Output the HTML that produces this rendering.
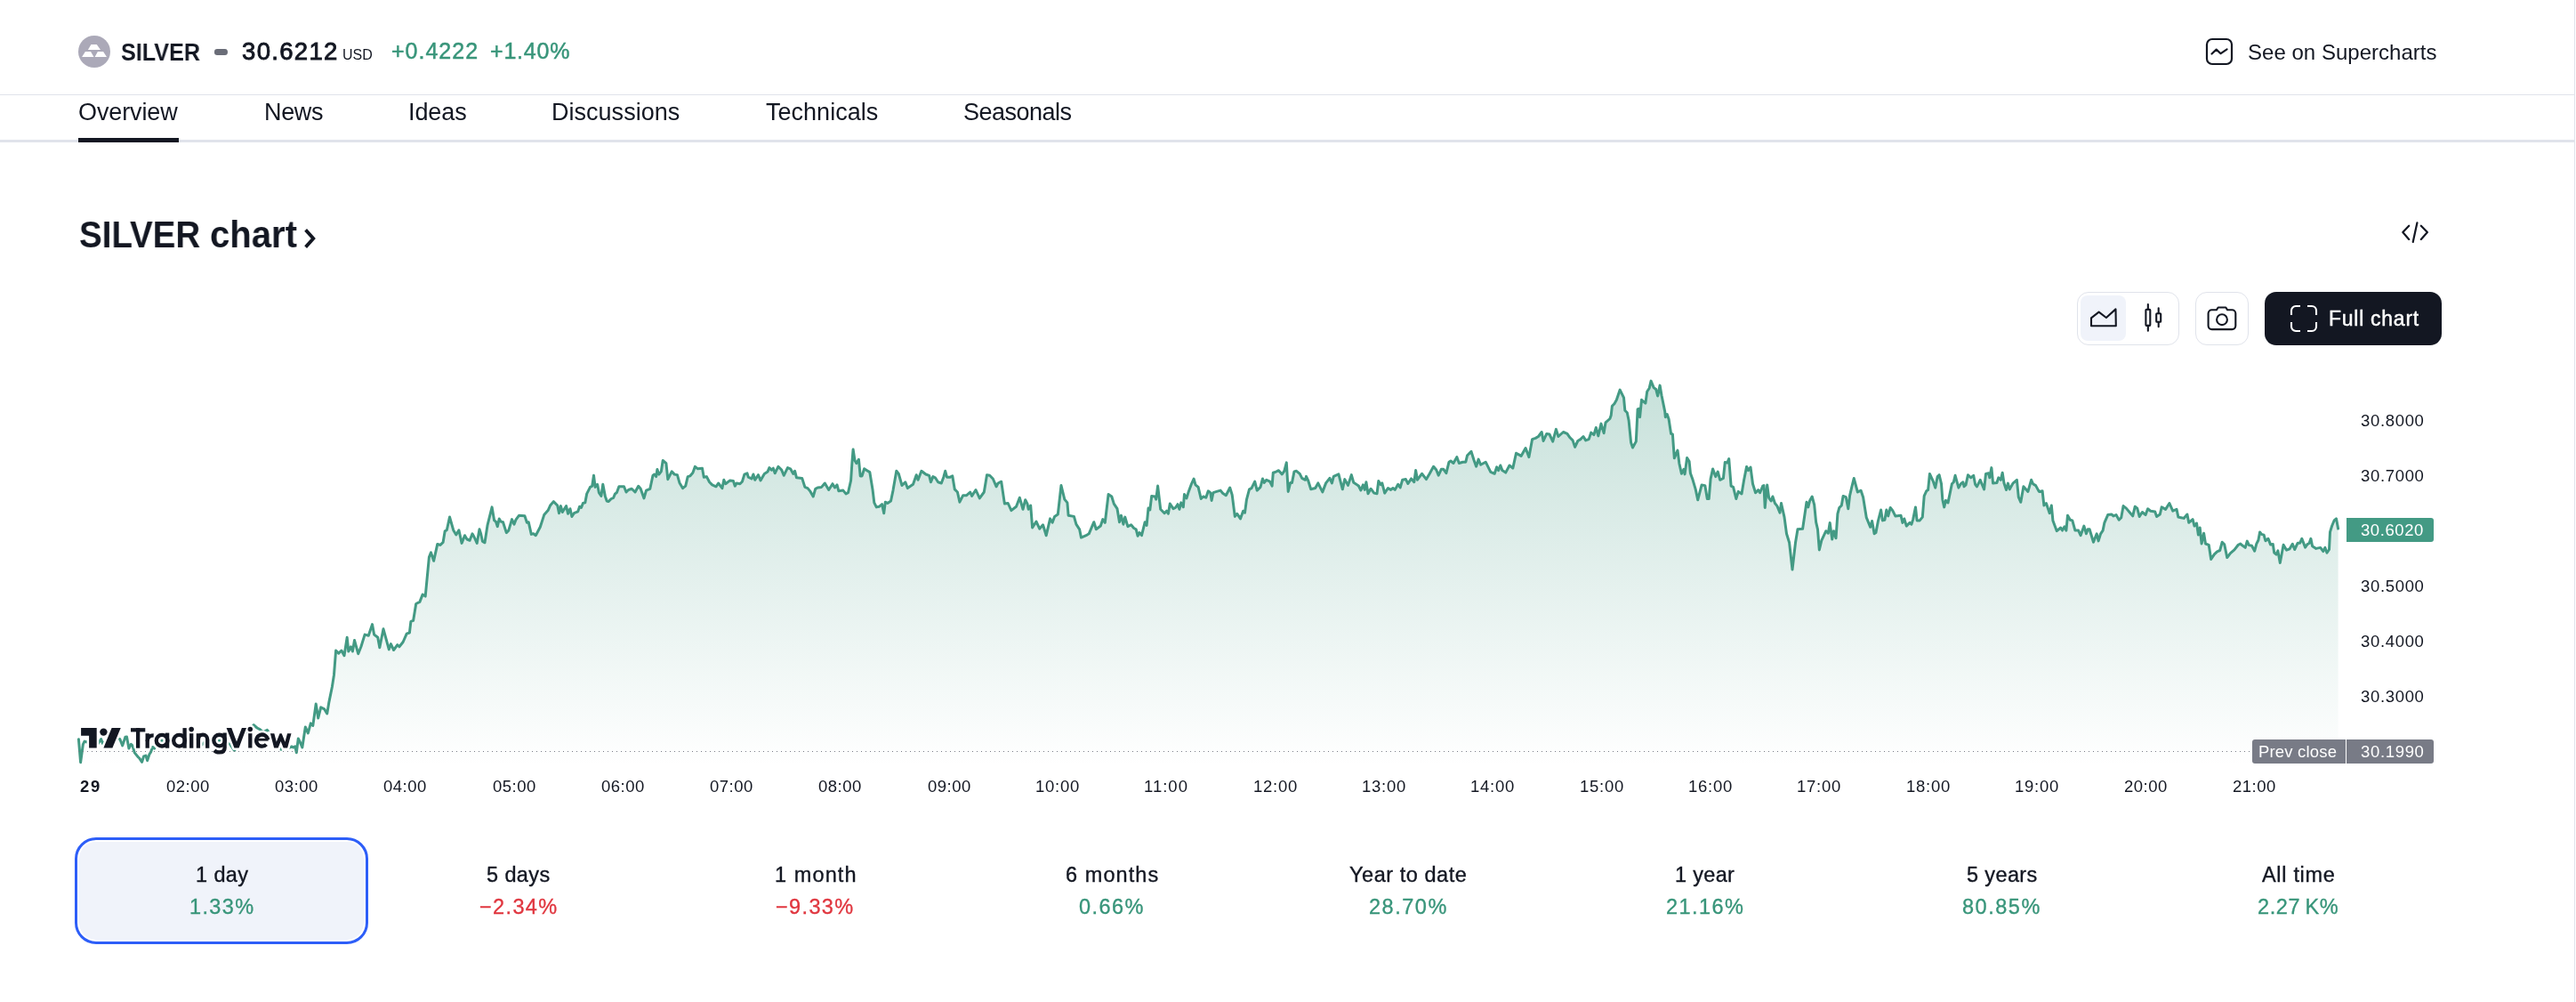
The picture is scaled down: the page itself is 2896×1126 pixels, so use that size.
<!DOCTYPE html>
<html lang="en"><head><meta charset="utf-8"><title>SILVER chart</title>
<style>
*{box-sizing:border-box;margin:0;padding:0}
html,body{width:2896px;height:1126px;overflow:hidden;background:#fff}
body{position:relative;font-family:"Liberation Sans",sans-serif;color:#131722}
.t{position:absolute;white-space:pre;line-height:1;font-family:"Liberation Sans",sans-serif;will-change:transform}
.abs{position:absolute}
.hr{position:absolute;left:0;width:2894px;background:#e0e3eb}
.vr{position:absolute;left:2894px;top:0;width:1px;height:1126px;background:#e0e3eb}
.btn{position:absolute;border:1px solid #e0e3eb;border-radius:13px;background:#fff}
</style></head>
<body>
<header class="abs" style="left:0;top:0;width:2896px;height:106px">
<svg class="abs" style="left:88px;top:40px" width="36" height="36" viewBox="0 0 36 36">
<circle cx="18" cy="18" r="18" fill="#aba9b8"/>
<path d="M14.4,10 L20.8,10 L25,15.9 L10.9,15.9 Z M7.9,18 L14,18 L17.5,23.9 L4.1,23.9 Z M21.9,18 L28.1,18 L32,23.9 L18.6,23.9 Z" fill="#fff"/>
</svg>
<span class="t" style="left:136.07px;top:45.8px;font-size:27px;font-weight:700;color:#131722;letter-spacing:0px;transform:scaleX(0.9319);transform-origin:0 0">SILVER</span>
<span class="abs" style="left:241px;top:55.3px;width:15px;height:6.3px;border-radius:3.2px;background:#6a6d78"></span>
<span class="t" style="left:272.0px;top:44.0px;font-size:27.5px;font-weight:400;color:#131722;letter-spacing:1.333px;-webkit-text-stroke:0.9px #131722">30.6212</span>
<span class="t" style="left:385.0px;top:54.4px;font-size:16px;font-weight:400;color:#131722;letter-spacing:0.0px">USD</span>
<span class="t" style="left:440.0px;top:45.0px;font-size:25px;font-weight:400;color:#38957a;letter-spacing:1.0px;-webkit-text-stroke:0.5px #38957a">+0.4222</span>
<span class="t" style="left:551.0px;top:45.0px;font-size:25px;font-weight:400;color:#38957a;letter-spacing:0.8px;-webkit-text-stroke:0.5px #38957a">+1.40%</span>
<svg class="abs" style="left:2479px;top:42px" width="32" height="32" viewBox="0 0 32 32" fill="none" stroke="#131722" stroke-width="2.2" stroke-linecap="round" stroke-linejoin="round">
<rect x="2" y="2" width="28" height="28" rx="6"/>
<path d="M7.5,18.5 L12.7,13.6 L17.6,18.2 L24.6,13.4"/>
</svg>
<span class="t" style="left:2526.8px;top:46.8px;font-size:24px;font-weight:400;color:#131722;letter-spacing:0.024px">See on Supercharts</span>
</header>
<div class="hr" style="top:106px;height:1px"></div>
<div class="vr"></div>
<nav aria-label="Symbol sections">
<span class="t" style="left:88.0px;top:113.3px;font-size:27px;font-weight:400;color:#131722;letter-spacing:-0.114px">Overview</span><span class="t" style="left:296.5px;top:113.3px;font-size:27px;font-weight:400;color:#131722;letter-spacing:-0.334px">News</span><span class="t" style="left:458.7px;top:113.3px;font-size:27px;font-weight:400;color:#131722;letter-spacing:-0.1px">Ideas</span><span class="t" style="left:620.0px;top:113.3px;font-size:27px;font-weight:400;color:#131722;letter-spacing:0.02px">Discussions</span><span class="t" style="left:861.4px;top:113.3px;font-size:27px;font-weight:400;color:#131722;letter-spacing:0.023px">Technicals</span><span class="t" style="left:1083.0px;top:113.3px;font-size:27px;font-weight:400;color:#131722;letter-spacing:-0.5px">Seasonals</span>
<div class="hr" style="top:157px;height:3px"></div>
<div class="abs" style="left:88px;top:155px;width:113px;height:5px;background:#131722"></div>
</nav>
<main>
<span class="t" style="left:88.98px;top:243.0px;font-size:42px;font-weight:700;color:#131722;letter-spacing:0px;transform:scaleX(0.9163);transform-origin:0 0">SILVER</span>
<span class="t" style="left:235.75px;top:243.0px;font-size:42px;font-weight:700;color:#131722;letter-spacing:0px;transform:scaleX(0.9539);transform-origin:0 0">chart</span>
<svg class="abs" style="left:338px;top:254px" width="20" height="28" viewBox="338 254 20 28" fill="none" stroke="#131722" stroke-width="3.8" stroke-linecap="butt" stroke-linejoin="miter">
<path d="M343.6,258.4 L352.3,268 L343.6,277.6"/></svg>
<svg class="abs" style="left:2696px;top:246px" width="40" height="30" viewBox="2696 246 40 30" fill="none" stroke="#131722" stroke-width="2.2" stroke-linecap="round" stroke-linejoin="round">
<path d="M2708.2,253.7 L2701.3,261.1 L2708.2,268.9 M2717.4,250.4 L2712.7,271.9 M2721.8,253.7 L2728.9,261.1 L2721.8,268.9"/></svg>
<div class="btn" style="left:2335px;top:328px;width:115px;height:60px"></div>
<div class="abs" style="left:2339px;top:332px;width:51px;height:51px;border-radius:8px;background:#f0f3fa"></div>
<svg class="abs" style="left:2340px;top:336px" width="100" height="42" viewBox="2340 336 100 42" fill="none" stroke="#131722" stroke-width="2.1" stroke-linejoin="round" stroke-linecap="round">
<path d="M2351,357.3 L2359.6,350.6 L2367.9,357 L2378.5,347.4 L2378.8,366.2 L2351,366.2 Z"/>
<rect x="2412.4" y="347.8" width="4.9" height="18.1" rx="0.8"/>
<path d="M2414.85,342 V347.8 M2414.85,365.9 V371.7"/>
<rect x="2424.2" y="352.2" width="5" height="9.6" rx="0.8"/>
<path d="M2426.7,346.3 V352.2 M2426.7,361.8 V367.2"/>
</svg>
<div class="btn" style="left:2468px;top:328px;width:60px;height:60px"></div>
<svg class="abs" style="left:2478px;top:340px" width="40" height="34" viewBox="2478 340 40 34" fill="none" stroke="#131722" stroke-width="2.1" stroke-linejoin="round" stroke-linecap="round">
<path d="M2486.6,348.3 H2491.8 L2493.7,345.5 H2502.3 L2504.2,348.3 H2509.3 A4,4 0 0 1 2513.3,352.3 V366.1 A4,4 0 0 1 2509.3,370.1 H2486.6 A4,4 0 0 1 2482.6,366.1 V352.3 A4,4 0 0 1 2486.6,348.3 Z"/>
<circle cx="2498" cy="359.2" r="5.9"/>
</svg>
<div class="abs" style="left:2546px;top:328px;width:199px;height:60px;border-radius:13px;background:#131722"></div>
<svg class="abs" style="left:2574px;top:342px" width="32" height="32" viewBox="0 0 32 32" fill="none" stroke="#fff" stroke-width="2.1" stroke-linecap="butt">
<path d="M2,12 V7 A5,5 0 0 1 7,2 H12 M20,2 H25 A5,5 0 0 1 30,7 V12 M30,20 V25 A5,5 0 0 1 25,30 H20 M12,30 H7 A5,5 0 0 1 2,25 V20"/>
</svg>
<span class="t" style="left:2617.7px;top:347.1px;font-size:23px;font-weight:400;color:#ffffff;letter-spacing:0.733px;-webkit-text-stroke:0.45px #ffffff">Full chart</span>
<svg class="abs" style="left:80px;top:400px" width="2580" height="480" viewBox="80 400 2580 480">
<defs><linearGradient id="g" gradientUnits="userSpaceOnUse" x1="0" y1="425" x2="0" y2="860">
<stop offset="0" stop-color="#439a84" stop-opacity="0.30"/>
<stop offset="1" stop-color="#439a84" stop-opacity="0.0"/>
</linearGradient></defs>
<path d="M88.4,830.7 L90.6,856.7 L93.4,836.3 L95.0,833.1 L98.0,834.0 L102.0,831.0 L106.0,835.0 L110.0,836.0 L113.6,830.6 L115.4,835.5 L119.0,833.0 L122.0,830.0 L126.0,833.0 L130.0,829.0 L134.9,830.7 L137.7,837.9 L140.9,828.3 L142.5,828.0 L144.9,841.1 L147.3,836.3 L148.9,837.9 L151.3,845.9 L155.3,850.7 L156.9,852.3 L159.6,856.3 L161.6,849.9 L164.0,849.1 L165.6,854.7 L168.0,847.5 L169.6,845.1 L171.6,839.5 L173.6,841.1 L177.0,836.0 L182.3,831.8 L187.0,835.0 L192.0,829.0 L197.0,840.0 L203.0,836.0 L209.0,832.0 L215.0,838.0 L221.0,834.0 L227.0,837.0 L233.0,831.0 L240.0,835.0 L246.8,831.8 L252.0,834.0 L258.4,836.1 L263.5,843.4 L268.0,836.0 L274.0,826.0 L280.0,820.0 L285.2,814.7 L289.0,818.0 L292.2,819.6 L295.8,822.8 L300.4,820.4 L304.0,826.0 L308.0,834.0 L312.0,839.0 L315.8,842.2 L320.0,839.0 L324.0,841.0 L327.8,838.9 L329.8,839.9 L331.8,838.9 L333.3,845.8 L335.3,829.9 L337.3,833.9 L339.8,839.9 L343.3,816.9 L346.3,823.9 L349.3,812.9 L351.8,815.4 L355.2,790.9 L357.7,806.9 L360.7,794.9 L364.7,796.9 L367.7,801.9 L369.7,789.9 L373.4,771.8 L375.5,758.2 L377.6,731.0 L380.7,734.1 L383.9,731.0 L387.0,736.8 L390.2,716.3 L391.8,732.0 L394.4,726.8 L396.4,732.0 L398.5,719.4 L402.7,734.7 L405.9,726.8 L410.1,713.1 L414.3,714.2 L418.5,701.6 L420.6,713.1 L424.7,716.3 L426.8,727.8 L431.0,706.8 L437.3,729.9 L439.4,723.6 L442.6,730.5 L446.8,724.7 L448.9,726.8 L453.1,721.5 L457.2,712.1 L460.4,711.0 L461.9,698.4 L464.6,697.4 L467.7,678.5 L471.9,676.4 L475.1,668.1 L478.2,670.1 L482.4,626.1 L484.5,620.9 L487.6,630.3 L491.8,611.4 L495.0,612.5 L498.1,609.4 L500.2,596.8 L502.3,595.7 L505.5,581.0 L509.7,595.7 L512.8,601.0 L515.9,595.7 L519.1,610.4 L522.5,601.7 L525.0,606.0 L528.1,607.3 L531.0,599.8 L533.1,603.5 L536.2,610.4 L539.0,594.8 L540.6,599.8 L542.5,608.5 L545.0,609.8 L548.1,589.8 L553.1,569.9 L555.6,584.8 L557.4,586.1 L559.3,591.7 L561.2,583.0 L563.0,586.1 L565.5,586.7 L569.3,598.6 L571.8,596.1 L575.5,583.6 L578.0,589.2 L579.9,584.2 L583.6,579.2 L589.9,579.8 L592.4,587.3 L594.2,586.7 L597.3,600.4 L599.8,599.8 L602.3,601.7 L607.3,592.3 L611.7,578.6 L616.1,573.6 L618.6,568.0 L622.3,563.6 L626.7,568.0 L628.5,576.7 L630.4,568.6 L632.3,575.5 L636.6,568.6 L638.5,577.3 L641.0,571.7 L642.9,580.5 L645.4,576.7 L649.7,574.9 L651.6,569.2 L653.5,570.5 L655.4,565.5 L657.8,564.9 L659.7,554.9 L663.5,547.4 L665.7,546.2 L667.5,534.3 L669.1,547.4 L671.6,544.3 L673.4,553.6 L675.9,557.4 L677.8,544.3 L680.3,557.4 L682.2,563.0 L684.0,563.6 L687.2,560.5 L689.7,559.3 L691.5,554.9 L693.4,553.6 L695.9,546.8 L701.5,546.8 L704.0,553.0 L706.5,550.5 L710.2,549.3 L714.0,553.0 L717.7,546.2 L720.2,549.3 L724.0,559.9 L726.5,551.1 L730.8,549.3 L734.0,534.3 L735.8,533.1 L737.7,535.6 L738.9,527.4 L740.8,533.1 L743.3,529.9 L745.2,517.5 L748.9,520.6 L750.8,538.7 L755.2,529.9 L758.3,533.1 L761.4,533.7 L763.9,542.4 L767.6,548.7 L770.7,546.2 L773.2,535.6 L775.7,534.9 L778.9,531.2 L781.4,524.3 L784.5,526.8 L789.5,526.2 L791.3,536.2 L794.4,535.6 L797.6,541.8 L800.7,544.9 L805.0,546.8 L807.6,543.0 L811.9,548.7 L813.8,539.3 L815.7,543.7 L820.7,539.9 L824.4,540.5 L826.3,546.2 L828.1,543.0 L831.9,543.7 L834.4,541.2 L836.9,533.1 L840.0,531.8 L841.2,536.2 L845.0,538.0 L846.9,533.0 L848.7,539.3 L852.5,533.7 L855.0,539.9 L859.3,532.4 L863.1,529.9 L864.9,525.6 L867.4,528.1 L869.3,526.2 L871.2,531.8 L874.9,524.3 L878.7,528.1 L881.2,534.3 L885.5,525.6 L888.6,526.8 L891.8,532.4 L893.6,529.3 L895.5,536.8 L901.7,537.4 L904.9,547.4 L908.0,548.6 L911.1,552.4 L914.2,558.0 L916.7,549.3 L919.2,548.0 L923.6,547.4 L927.3,543.0 L931.7,550.5 L936.0,543.7 L938.5,548.0 L941.0,544.9 L942.9,551.8 L947.9,551.1 L951.0,554.9 L953.5,553.6 L956.6,539.9 L957.9,520.0 L959.1,505.0 L961.0,517.5 L962.9,520.6 L965.4,516.2 L967.2,534.9 L969.1,534.9 L971.6,526.8 L974.7,528.7 L977.8,530.6 L981.0,549.9 L982.8,564.9 L985.3,569.9 L988.6,569.2 L991.6,566.7 L993.7,576.7 L995.3,564.2 L997.8,565.5 L1001.5,563.0 L1004.0,551.1 L1007.8,529.3 L1010.3,532.4 L1014.0,545.5 L1017.8,541.8 L1020.3,548.6 L1026.5,544.3 L1030.2,533.7 L1032.1,539.3 L1035.9,529.3 L1040.8,533.0 L1044.6,534.3 L1046.5,541.8 L1048.9,535.6 L1051.4,536.8 L1054.6,541.8 L1058.3,543.0 L1060.8,536.2 L1062.7,529.3 L1064.5,536.2 L1068.3,536.2 L1070.8,534.9 L1073.3,549.9 L1076.4,553.0 L1078.9,564.2 L1082.6,556.8 L1086.4,556.8 L1090.7,553.0 L1092.6,557.4 L1097.0,550.5 L1101.3,559.9 L1106.3,553.0 L1109.5,533.7 L1112.6,534.3 L1116.3,538.0 L1120.1,546.8 L1122.0,543.0 L1125.7,541.2 L1129.4,566.1 L1133.2,565.5 L1136.9,573.6 L1142.5,569.2 L1146.3,559.2 L1150.0,572.3 L1152.7,561.7 L1155.0,566.1 L1156.2,572.3 L1158.7,568.0 L1160.6,592.9 L1165.0,586.1 L1168.7,594.2 L1172.5,589.8 L1176.2,601.7 L1180.6,582.9 L1183.1,587.3 L1185.6,580.4 L1189.3,578.0 L1193.0,545.5 L1196.8,561.1 L1199.9,564.9 L1201.1,579.2 L1207.4,580.4 L1209.9,589.2 L1213.6,594.8 L1215.5,604.1 L1221.1,601.7 L1224.2,599.8 L1229.8,586.7 L1232.3,594.8 L1237.3,591.0 L1239.8,583.6 L1242.3,587.3 L1246.1,555.5 L1249.8,558.0 L1252.3,566.1 L1256.0,571.7 L1258.5,586.7 L1260.4,579.2 L1262.9,589.2 L1264.8,581.1 L1267.9,591.7 L1271.6,589.8 L1274.7,593.5 L1277.2,594.8 L1279.1,602.3 L1281.0,598.5 L1283.5,601.7 L1287.2,586.7 L1289.1,590.4 L1291.0,571.1 L1292.8,573.0 L1294.7,557.4 L1298.5,558.0 L1299.7,561.1 L1301.6,546.1 L1304.7,572.3 L1309.1,576.7 L1311.5,574.2 L1313.4,577.3 L1315.3,566.1 L1319.0,571.7 L1321.5,570.5 L1324.0,566.7 L1325.9,572.3 L1327.8,564.9 L1330.3,569.8 L1331.5,555.5 L1334.0,559.9 L1335.9,553.6 L1339.6,543.6 L1342.1,538.0 L1344.0,544.9 L1347.1,547.4 L1350.2,560.5 L1352.7,558.0 L1355.8,559.2 L1358.3,551.8 L1360.8,553.6 L1362.1,562.4 L1363.9,553.6 L1367.7,552.4 L1372.1,551.1 L1374.6,554.2 L1378.3,556.7 L1382.7,548.0 L1385.2,556.1 L1388.3,580.4 L1390.8,577.3 L1394.5,582.9 L1397.6,574.2 L1399.5,576.1 L1401.4,561.7 L1404.5,549.9 L1407.0,548.6 L1410.7,541.1 L1413.2,551.1 L1417.0,547.4 L1419.5,538.0 L1421.3,542.4 L1423.8,539.3 L1427.6,541.1 L1430.1,546.1 L1431.3,531.2 L1433.8,530.5 L1437.5,528.7 L1441.3,533.0 L1443.8,529.3 L1446.3,519.9 L1448.2,552.4 L1450.7,542.4 L1452.5,542.4 L1455.0,529.9 L1457.5,529.3 L1461.2,532.4 L1463.7,537.4 L1467.5,539.3 L1468.5,535.4 L1470.6,539.8 L1473.7,549.8 L1478.7,548.5 L1481.8,542.9 L1486.8,552.9 L1490.6,542.9 L1494.9,537.3 L1497.4,542.9 L1499.3,535.4 L1504.9,532.9 L1509.3,549.8 L1511.8,538.6 L1515.5,545.4 L1519.3,533.6 L1521.8,542.3 L1527.4,546.0 L1529.9,551.0 L1532.4,544.8 L1534.2,550.4 L1535.9,541.7 L1538.0,554.8 L1541.1,549.2 L1544.8,554.1 L1548.0,554.8 L1549.8,540.4 L1552.3,544.8 L1553.8,542.9 L1556.7,554.1 L1560.4,548.5 L1563.6,550.4 L1566.0,548.5 L1568.3,550.4 L1571.7,544.2 L1574.2,547.9 L1576.7,539.2 L1580.4,538.6 L1582.9,543.5 L1586.6,537.9 L1589.8,541.7 L1591.6,528.6 L1593.5,539.2 L1598.5,532.3 L1603.5,538.6 L1607.2,532.3 L1611.6,524.2 L1614.7,528.0 L1617.2,534.2 L1620.3,527.3 L1622.8,527.3 L1625.9,531.7 L1629.0,519.2 L1630.9,518.0 L1634.0,520.5 L1637.8,513.6 L1640.3,520.5 L1644.6,519.2 L1647.8,519.2 L1649.6,511.7 L1654.0,507.4 L1657.1,517.3 L1659.6,524.2 L1662.1,516.1 L1664.6,522.3 L1670.2,519.2 L1675.8,530.4 L1680.2,532.3 L1682.7,524.8 L1684.6,528.6 L1686.8,523.0 L1688.9,528.6 L1692.7,531.1 L1697.0,523.0 L1700.8,526.1 L1704.5,509.2 L1710.1,512.4 L1715.1,503.6 L1718.9,513.6 L1722.6,493.6 L1726.3,492.4 L1729.5,490.5 L1733.2,485.5 L1735.1,495.5 L1738.8,487.4 L1741.9,488.0 L1745.7,496.1 L1749.4,482.4 L1751.9,490.5 L1757.5,485.5 L1761.9,487.4 L1765.0,491.8 L1768.1,494.9 L1770.6,502.4 L1773.8,495.5 L1776.9,493.6 L1780.0,490.5 L1782.7,494.9 L1786.2,493.6 L1788.7,486.1 L1791.9,488.6 L1794.3,480.5 L1796.8,489.9 L1800.0,476.1 L1803.1,486.7 L1805.0,474.9 L1809.9,470.5 L1811.2,466.8 L1812.4,456.2 L1814.9,453.7 L1817.4,449.3 L1821.2,438.1 L1825.5,446.8 L1826.8,461.2 L1829.3,463.7 L1831.1,472.4 L1833.6,497.3 L1835.5,503.0 L1839.3,496.1 L1841.1,459.9 L1842.4,459.3 L1843.6,468.7 L1845.5,449.3 L1849.9,453.1 L1851.7,440.0 L1854.2,436.2 L1856.1,428.1 L1859.2,435.6 L1861.7,437.5 L1863.6,445.0 L1866.1,433.1 L1868.0,444.3 L1871.7,462.4 L1872.3,468.7 L1874.2,465.5 L1876.1,471.1 L1878.6,487.4 L1880.4,488.0 L1882.3,514.8 L1886.0,506.1 L1887.9,521.0 L1890.4,532.3 L1892.9,527.3 L1894.1,532.9 L1896.6,514.5 L1899.1,518.6 L1900.4,531.7 L1903.1,539.3 L1906.2,549.9 L1908.7,561.8 L1913.1,544.9 L1916.8,545.6 L1919.3,560.5 L1921.2,560.5 L1923.1,538.1 L1925.6,526.9 L1928.7,535.6 L1931.2,530.0 L1933.7,539.3 L1937.4,537.5 L1939.3,519.4 L1941.8,520.0 L1943.7,515.6 L1946.1,546.2 L1948.6,547.4 L1951.8,560.5 L1954.3,552.4 L1958.0,554.9 L1960.5,540.0 L1963.6,524.4 L1965.5,528.7 L1968.0,525.0 L1970.5,543.7 L1973.6,553.7 L1976.7,550.6 L1978.6,553.7 L1981.7,546.2 L1983.0,545.6 L1984.2,570.5 L1986.7,544.9 L1988.6,559.3 L1991.1,563.0 L1992.9,558.0 L1995.4,565.5 L1997.9,568.6 L2001.0,576.1 L2002.5,565.5 L2006.0,581.1 L2008.5,599.8 L2011.6,609.8 L2015.0,640.0 L2018.5,609.8 L2021.0,594.8 L2026.6,594.2 L2031.0,564.3 L2032.8,569.9 L2034.7,562.4 L2037.2,558.0 L2039.7,567.4 L2041.6,586.7 L2043.5,594.8 L2045.3,617.9 L2047.8,607.3 L2052.8,596.7 L2055.3,599.2 L2057.2,587.4 L2059.7,606.1 L2061.5,596.7 L2064.0,604.8 L2065.9,577.4 L2067.8,570.5 L2070.3,568.0 L2072.1,557.4 L2075.3,558.7 L2077.8,571.8 L2079.6,556.8 L2081.5,548.7 L2084.2,537.5 L2088.4,553.0 L2092.1,551.2 L2094.6,558.7 L2098.3,581.7 L2102.7,592.3 L2104.6,585.5 L2107.1,599.8 L2108.9,598.6 L2111.4,585.5 L2114.6,573.0 L2116.4,584.9 L2118.9,584.2 L2120.8,573.0 L2122.7,579.9 L2125.2,570.5 L2127.7,573.6 L2130.8,579.9 L2137.0,579.2 L2138.9,587.4 L2140.8,583.0 L2143.3,591.1 L2147.0,587.4 L2148.9,589.2 L2150.7,583.6 L2153.5,569.9 L2155.1,584.9 L2158.2,584.9 L2161.3,581.1 L2163.2,557.4 L2165.7,551.8 L2167.6,550.6 L2169.4,532.5 L2173.2,540.6 L2175.7,548.1 L2178.2,535.6 L2180.1,533.7 L2182.5,543.7 L2183.8,561.2 L2185.7,569.9 L2187.5,562.4 L2190.0,564.9 L2194.4,543.7 L2196.3,541.8 L2198.1,534.3 L2201.9,548.1 L2204.4,543.7 L2206.9,541.8 L2208.1,546.8 L2210.0,544.9 L2212.5,533.7 L2215.6,536.8 L2218.7,534.3 L2220.6,544.3 L2222.5,546.8 L2226.2,539.3 L2230.6,549.9 L2232.5,532.5 L2235.6,531.8 L2236.8,536.8 L2238.9,525.6 L2240.6,543.1 L2244.9,542.4 L2246.8,536.8 L2249.3,539.3 L2251.2,531.2 L2253.0,543.1 L2255.5,550.5 L2257.4,543.1 L2259.3,549.9 L2263.0,543.1 L2267.4,539.3 L2269.3,558.7 L2271.8,564.3 L2274.9,546.8 L2279.9,552.4 L2283.6,539.3 L2285.5,543.7 L2288.6,545.6 L2292.3,552.4 L2296.1,551.8 L2297.9,568.0 L2300.4,565.5 L2304.2,576.7 L2306.3,568.0 L2307.9,584.9 L2312.3,596.7 L2316.7,593.0 L2318.5,596.1 L2321.0,591.7 L2322.9,596.1 L2324.5,579.2 L2327.3,584.2 L2329.8,584.9 L2332.9,596.1 L2336.6,596.1 L2339.1,601.7 L2342.9,591.1 L2345.4,599.8 L2347.2,594.8 L2349.1,594.8 L2353.5,609.2 L2357.2,599.8 L2359.1,607.9 L2361.6,599.8 L2364.1,596.1 L2365.9,587.3 L2369.7,578.6 L2374.0,578.0 L2375.9,579.9 L2379.0,578.6 L2382.2,584.2 L2384.7,581.7 L2387.1,568.6 L2390.3,571.1 L2394.0,575.5 L2397.7,579.9 L2400.2,569.3 L2402.7,571.1 L2405.2,580.5 L2408.4,575.5 L2412.1,578.6 L2414.6,571.8 L2417.7,574.2 L2422.7,574.9 L2424.6,580.5 L2428.3,578.0 L2430.2,569.9 L2434.6,572.4 L2438.9,565.5 L2442.7,574.2 L2447.0,572.4 L2448.9,581.1 L2452.0,581.7 L2455.1,582.4 L2458.9,578.0 L2460.7,587.3 L2465.1,583.6 L2467.0,591.1 L2469.5,588.0 L2471.4,601.1 L2473.2,593.0 L2475.1,611.0 L2477.6,599.2 L2479.5,611.0 L2483.2,612.3 L2485.7,628.5 L2489.4,622.9 L2492.6,619.8 L2495.7,618.5 L2498.2,609.2 L2500.7,611.7 L2503.8,626.6 L2507.5,621.7 L2511.9,617.9 L2516.3,612.3 L2518.8,611.0 L2520.0,612.3 L2524.2,615.4 L2526.3,608.1 L2528.4,612.6 L2531.5,613.3 L2534.7,619.2 L2536.8,611.2 L2538.9,607.0 L2540.6,597.9 L2542.4,600.4 L2545.1,601.1 L2546.9,607.7 L2550.0,605.3 L2552.5,611.9 L2555.3,611.6 L2556.7,621.0 L2559.1,623.1 L2560.9,618.9 L2563.3,632.5 L2567.1,612.3 L2570.6,618.2 L2574.1,616.8 L2577.3,611.2 L2579.7,617.5 L2583.2,610.2 L2585.7,610.2 L2587.8,605.3 L2591.6,615.1 L2594.0,611.6 L2596.1,610.5 L2597.9,605.3 L2599.6,613.7 L2603.8,616.4 L2608.7,615.4 L2611.8,619.6 L2613.9,615.4 L2616.0,621.3 L2618.5,617.5 L2619.5,597.9 L2621.6,591.0 L2624.1,585.0 L2626.5,582.9 L2628.6,594.1 L2628.6,860 L88.4,860 Z" fill="url(#g)" stroke="none"/>
<path d="M88.4,830.7 L90.6,856.7 L93.4,836.3 L95.0,833.1 L98.0,834.0 L102.0,831.0 L106.0,835.0 L110.0,836.0 L113.6,830.6 L115.4,835.5 L119.0,833.0 L122.0,830.0 L126.0,833.0 L130.0,829.0 L134.9,830.7 L137.7,837.9 L140.9,828.3 L142.5,828.0 L144.9,841.1 L147.3,836.3 L148.9,837.9 L151.3,845.9 L155.3,850.7 L156.9,852.3 L159.6,856.3 L161.6,849.9 L164.0,849.1 L165.6,854.7 L168.0,847.5 L169.6,845.1 L171.6,839.5 L173.6,841.1 L177.0,836.0 L182.3,831.8 L187.0,835.0 L192.0,829.0 L197.0,840.0 L203.0,836.0 L209.0,832.0 L215.0,838.0 L221.0,834.0 L227.0,837.0 L233.0,831.0 L240.0,835.0 L246.8,831.8 L252.0,834.0 L258.4,836.1 L263.5,843.4 L268.0,836.0 L274.0,826.0 L280.0,820.0 L285.2,814.7 L289.0,818.0 L292.2,819.6 L295.8,822.8 L300.4,820.4 L304.0,826.0 L308.0,834.0 L312.0,839.0 L315.8,842.2 L320.0,839.0 L324.0,841.0 L327.8,838.9 L329.8,839.9 L331.8,838.9 L333.3,845.8 L335.3,829.9 L337.3,833.9 L339.8,839.9 L343.3,816.9 L346.3,823.9 L349.3,812.9 L351.8,815.4 L355.2,790.9 L357.7,806.9 L360.7,794.9 L364.7,796.9 L367.7,801.9 L369.7,789.9 L373.4,771.8 L375.5,758.2 L377.6,731.0 L380.7,734.1 L383.9,731.0 L387.0,736.8 L390.2,716.3 L391.8,732.0 L394.4,726.8 L396.4,732.0 L398.5,719.4 L402.7,734.7 L405.9,726.8 L410.1,713.1 L414.3,714.2 L418.5,701.6 L420.6,713.1 L424.7,716.3 L426.8,727.8 L431.0,706.8 L437.3,729.9 L439.4,723.6 L442.6,730.5 L446.8,724.7 L448.9,726.8 L453.1,721.5 L457.2,712.1 L460.4,711.0 L461.9,698.4 L464.6,697.4 L467.7,678.5 L471.9,676.4 L475.1,668.1 L478.2,670.1 L482.4,626.1 L484.5,620.9 L487.6,630.3 L491.8,611.4 L495.0,612.5 L498.1,609.4 L500.2,596.8 L502.3,595.7 L505.5,581.0 L509.7,595.7 L512.8,601.0 L515.9,595.7 L519.1,610.4 L522.5,601.7 L525.0,606.0 L528.1,607.3 L531.0,599.8 L533.1,603.5 L536.2,610.4 L539.0,594.8 L540.6,599.8 L542.5,608.5 L545.0,609.8 L548.1,589.8 L553.1,569.9 L555.6,584.8 L557.4,586.1 L559.3,591.7 L561.2,583.0 L563.0,586.1 L565.5,586.7 L569.3,598.6 L571.8,596.1 L575.5,583.6 L578.0,589.2 L579.9,584.2 L583.6,579.2 L589.9,579.8 L592.4,587.3 L594.2,586.7 L597.3,600.4 L599.8,599.8 L602.3,601.7 L607.3,592.3 L611.7,578.6 L616.1,573.6 L618.6,568.0 L622.3,563.6 L626.7,568.0 L628.5,576.7 L630.4,568.6 L632.3,575.5 L636.6,568.6 L638.5,577.3 L641.0,571.7 L642.9,580.5 L645.4,576.7 L649.7,574.9 L651.6,569.2 L653.5,570.5 L655.4,565.5 L657.8,564.9 L659.7,554.9 L663.5,547.4 L665.7,546.2 L667.5,534.3 L669.1,547.4 L671.6,544.3 L673.4,553.6 L675.9,557.4 L677.8,544.3 L680.3,557.4 L682.2,563.0 L684.0,563.6 L687.2,560.5 L689.7,559.3 L691.5,554.9 L693.4,553.6 L695.9,546.8 L701.5,546.8 L704.0,553.0 L706.5,550.5 L710.2,549.3 L714.0,553.0 L717.7,546.2 L720.2,549.3 L724.0,559.9 L726.5,551.1 L730.8,549.3 L734.0,534.3 L735.8,533.1 L737.7,535.6 L738.9,527.4 L740.8,533.1 L743.3,529.9 L745.2,517.5 L748.9,520.6 L750.8,538.7 L755.2,529.9 L758.3,533.1 L761.4,533.7 L763.9,542.4 L767.6,548.7 L770.7,546.2 L773.2,535.6 L775.7,534.9 L778.9,531.2 L781.4,524.3 L784.5,526.8 L789.5,526.2 L791.3,536.2 L794.4,535.6 L797.6,541.8 L800.7,544.9 L805.0,546.8 L807.6,543.0 L811.9,548.7 L813.8,539.3 L815.7,543.7 L820.7,539.9 L824.4,540.5 L826.3,546.2 L828.1,543.0 L831.9,543.7 L834.4,541.2 L836.9,533.1 L840.0,531.8 L841.2,536.2 L845.0,538.0 L846.9,533.0 L848.7,539.3 L852.5,533.7 L855.0,539.9 L859.3,532.4 L863.1,529.9 L864.9,525.6 L867.4,528.1 L869.3,526.2 L871.2,531.8 L874.9,524.3 L878.7,528.1 L881.2,534.3 L885.5,525.6 L888.6,526.8 L891.8,532.4 L893.6,529.3 L895.5,536.8 L901.7,537.4 L904.9,547.4 L908.0,548.6 L911.1,552.4 L914.2,558.0 L916.7,549.3 L919.2,548.0 L923.6,547.4 L927.3,543.0 L931.7,550.5 L936.0,543.7 L938.5,548.0 L941.0,544.9 L942.9,551.8 L947.9,551.1 L951.0,554.9 L953.5,553.6 L956.6,539.9 L957.9,520.0 L959.1,505.0 L961.0,517.5 L962.9,520.6 L965.4,516.2 L967.2,534.9 L969.1,534.9 L971.6,526.8 L974.7,528.7 L977.8,530.6 L981.0,549.9 L982.8,564.9 L985.3,569.9 L988.6,569.2 L991.6,566.7 L993.7,576.7 L995.3,564.2 L997.8,565.5 L1001.5,563.0 L1004.0,551.1 L1007.8,529.3 L1010.3,532.4 L1014.0,545.5 L1017.8,541.8 L1020.3,548.6 L1026.5,544.3 L1030.2,533.7 L1032.1,539.3 L1035.9,529.3 L1040.8,533.0 L1044.6,534.3 L1046.5,541.8 L1048.9,535.6 L1051.4,536.8 L1054.6,541.8 L1058.3,543.0 L1060.8,536.2 L1062.7,529.3 L1064.5,536.2 L1068.3,536.2 L1070.8,534.9 L1073.3,549.9 L1076.4,553.0 L1078.9,564.2 L1082.6,556.8 L1086.4,556.8 L1090.7,553.0 L1092.6,557.4 L1097.0,550.5 L1101.3,559.9 L1106.3,553.0 L1109.5,533.7 L1112.6,534.3 L1116.3,538.0 L1120.1,546.8 L1122.0,543.0 L1125.7,541.2 L1129.4,566.1 L1133.2,565.5 L1136.9,573.6 L1142.5,569.2 L1146.3,559.2 L1150.0,572.3 L1152.7,561.7 L1155.0,566.1 L1156.2,572.3 L1158.7,568.0 L1160.6,592.9 L1165.0,586.1 L1168.7,594.2 L1172.5,589.8 L1176.2,601.7 L1180.6,582.9 L1183.1,587.3 L1185.6,580.4 L1189.3,578.0 L1193.0,545.5 L1196.8,561.1 L1199.9,564.9 L1201.1,579.2 L1207.4,580.4 L1209.9,589.2 L1213.6,594.8 L1215.5,604.1 L1221.1,601.7 L1224.2,599.8 L1229.8,586.7 L1232.3,594.8 L1237.3,591.0 L1239.8,583.6 L1242.3,587.3 L1246.1,555.5 L1249.8,558.0 L1252.3,566.1 L1256.0,571.7 L1258.5,586.7 L1260.4,579.2 L1262.9,589.2 L1264.8,581.1 L1267.9,591.7 L1271.6,589.8 L1274.7,593.5 L1277.2,594.8 L1279.1,602.3 L1281.0,598.5 L1283.5,601.7 L1287.2,586.7 L1289.1,590.4 L1291.0,571.1 L1292.8,573.0 L1294.7,557.4 L1298.5,558.0 L1299.7,561.1 L1301.6,546.1 L1304.7,572.3 L1309.1,576.7 L1311.5,574.2 L1313.4,577.3 L1315.3,566.1 L1319.0,571.7 L1321.5,570.5 L1324.0,566.7 L1325.9,572.3 L1327.8,564.9 L1330.3,569.8 L1331.5,555.5 L1334.0,559.9 L1335.9,553.6 L1339.6,543.6 L1342.1,538.0 L1344.0,544.9 L1347.1,547.4 L1350.2,560.5 L1352.7,558.0 L1355.8,559.2 L1358.3,551.8 L1360.8,553.6 L1362.1,562.4 L1363.9,553.6 L1367.7,552.4 L1372.1,551.1 L1374.6,554.2 L1378.3,556.7 L1382.7,548.0 L1385.2,556.1 L1388.3,580.4 L1390.8,577.3 L1394.5,582.9 L1397.6,574.2 L1399.5,576.1 L1401.4,561.7 L1404.5,549.9 L1407.0,548.6 L1410.7,541.1 L1413.2,551.1 L1417.0,547.4 L1419.5,538.0 L1421.3,542.4 L1423.8,539.3 L1427.6,541.1 L1430.1,546.1 L1431.3,531.2 L1433.8,530.5 L1437.5,528.7 L1441.3,533.0 L1443.8,529.3 L1446.3,519.9 L1448.2,552.4 L1450.7,542.4 L1452.5,542.4 L1455.0,529.9 L1457.5,529.3 L1461.2,532.4 L1463.7,537.4 L1467.5,539.3 L1468.5,535.4 L1470.6,539.8 L1473.7,549.8 L1478.7,548.5 L1481.8,542.9 L1486.8,552.9 L1490.6,542.9 L1494.9,537.3 L1497.4,542.9 L1499.3,535.4 L1504.9,532.9 L1509.3,549.8 L1511.8,538.6 L1515.5,545.4 L1519.3,533.6 L1521.8,542.3 L1527.4,546.0 L1529.9,551.0 L1532.4,544.8 L1534.2,550.4 L1535.9,541.7 L1538.0,554.8 L1541.1,549.2 L1544.8,554.1 L1548.0,554.8 L1549.8,540.4 L1552.3,544.8 L1553.8,542.9 L1556.7,554.1 L1560.4,548.5 L1563.6,550.4 L1566.0,548.5 L1568.3,550.4 L1571.7,544.2 L1574.2,547.9 L1576.7,539.2 L1580.4,538.6 L1582.9,543.5 L1586.6,537.9 L1589.8,541.7 L1591.6,528.6 L1593.5,539.2 L1598.5,532.3 L1603.5,538.6 L1607.2,532.3 L1611.6,524.2 L1614.7,528.0 L1617.2,534.2 L1620.3,527.3 L1622.8,527.3 L1625.9,531.7 L1629.0,519.2 L1630.9,518.0 L1634.0,520.5 L1637.8,513.6 L1640.3,520.5 L1644.6,519.2 L1647.8,519.2 L1649.6,511.7 L1654.0,507.4 L1657.1,517.3 L1659.6,524.2 L1662.1,516.1 L1664.6,522.3 L1670.2,519.2 L1675.8,530.4 L1680.2,532.3 L1682.7,524.8 L1684.6,528.6 L1686.8,523.0 L1688.9,528.6 L1692.7,531.1 L1697.0,523.0 L1700.8,526.1 L1704.5,509.2 L1710.1,512.4 L1715.1,503.6 L1718.9,513.6 L1722.6,493.6 L1726.3,492.4 L1729.5,490.5 L1733.2,485.5 L1735.1,495.5 L1738.8,487.4 L1741.9,488.0 L1745.7,496.1 L1749.4,482.4 L1751.9,490.5 L1757.5,485.5 L1761.9,487.4 L1765.0,491.8 L1768.1,494.9 L1770.6,502.4 L1773.8,495.5 L1776.9,493.6 L1780.0,490.5 L1782.7,494.9 L1786.2,493.6 L1788.7,486.1 L1791.9,488.6 L1794.3,480.5 L1796.8,489.9 L1800.0,476.1 L1803.1,486.7 L1805.0,474.9 L1809.9,470.5 L1811.2,466.8 L1812.4,456.2 L1814.9,453.7 L1817.4,449.3 L1821.2,438.1 L1825.5,446.8 L1826.8,461.2 L1829.3,463.7 L1831.1,472.4 L1833.6,497.3 L1835.5,503.0 L1839.3,496.1 L1841.1,459.9 L1842.4,459.3 L1843.6,468.7 L1845.5,449.3 L1849.9,453.1 L1851.7,440.0 L1854.2,436.2 L1856.1,428.1 L1859.2,435.6 L1861.7,437.5 L1863.6,445.0 L1866.1,433.1 L1868.0,444.3 L1871.7,462.4 L1872.3,468.7 L1874.2,465.5 L1876.1,471.1 L1878.6,487.4 L1880.4,488.0 L1882.3,514.8 L1886.0,506.1 L1887.9,521.0 L1890.4,532.3 L1892.9,527.3 L1894.1,532.9 L1896.6,514.5 L1899.1,518.6 L1900.4,531.7 L1903.1,539.3 L1906.2,549.9 L1908.7,561.8 L1913.1,544.9 L1916.8,545.6 L1919.3,560.5 L1921.2,560.5 L1923.1,538.1 L1925.6,526.9 L1928.7,535.6 L1931.2,530.0 L1933.7,539.3 L1937.4,537.5 L1939.3,519.4 L1941.8,520.0 L1943.7,515.6 L1946.1,546.2 L1948.6,547.4 L1951.8,560.5 L1954.3,552.4 L1958.0,554.9 L1960.5,540.0 L1963.6,524.4 L1965.5,528.7 L1968.0,525.0 L1970.5,543.7 L1973.6,553.7 L1976.7,550.6 L1978.6,553.7 L1981.7,546.2 L1983.0,545.6 L1984.2,570.5 L1986.7,544.9 L1988.6,559.3 L1991.1,563.0 L1992.9,558.0 L1995.4,565.5 L1997.9,568.6 L2001.0,576.1 L2002.5,565.5 L2006.0,581.1 L2008.5,599.8 L2011.6,609.8 L2015.0,640.0 L2018.5,609.8 L2021.0,594.8 L2026.6,594.2 L2031.0,564.3 L2032.8,569.9 L2034.7,562.4 L2037.2,558.0 L2039.7,567.4 L2041.6,586.7 L2043.5,594.8 L2045.3,617.9 L2047.8,607.3 L2052.8,596.7 L2055.3,599.2 L2057.2,587.4 L2059.7,606.1 L2061.5,596.7 L2064.0,604.8 L2065.9,577.4 L2067.8,570.5 L2070.3,568.0 L2072.1,557.4 L2075.3,558.7 L2077.8,571.8 L2079.6,556.8 L2081.5,548.7 L2084.2,537.5 L2088.4,553.0 L2092.1,551.2 L2094.6,558.7 L2098.3,581.7 L2102.7,592.3 L2104.6,585.5 L2107.1,599.8 L2108.9,598.6 L2111.4,585.5 L2114.6,573.0 L2116.4,584.9 L2118.9,584.2 L2120.8,573.0 L2122.7,579.9 L2125.2,570.5 L2127.7,573.6 L2130.8,579.9 L2137.0,579.2 L2138.9,587.4 L2140.8,583.0 L2143.3,591.1 L2147.0,587.4 L2148.9,589.2 L2150.7,583.6 L2153.5,569.9 L2155.1,584.9 L2158.2,584.9 L2161.3,581.1 L2163.2,557.4 L2165.7,551.8 L2167.6,550.6 L2169.4,532.5 L2173.2,540.6 L2175.7,548.1 L2178.2,535.6 L2180.1,533.7 L2182.5,543.7 L2183.8,561.2 L2185.7,569.9 L2187.5,562.4 L2190.0,564.9 L2194.4,543.7 L2196.3,541.8 L2198.1,534.3 L2201.9,548.1 L2204.4,543.7 L2206.9,541.8 L2208.1,546.8 L2210.0,544.9 L2212.5,533.7 L2215.6,536.8 L2218.7,534.3 L2220.6,544.3 L2222.5,546.8 L2226.2,539.3 L2230.6,549.9 L2232.5,532.5 L2235.6,531.8 L2236.8,536.8 L2238.9,525.6 L2240.6,543.1 L2244.9,542.4 L2246.8,536.8 L2249.3,539.3 L2251.2,531.2 L2253.0,543.1 L2255.5,550.5 L2257.4,543.1 L2259.3,549.9 L2263.0,543.1 L2267.4,539.3 L2269.3,558.7 L2271.8,564.3 L2274.9,546.8 L2279.9,552.4 L2283.6,539.3 L2285.5,543.7 L2288.6,545.6 L2292.3,552.4 L2296.1,551.8 L2297.9,568.0 L2300.4,565.5 L2304.2,576.7 L2306.3,568.0 L2307.9,584.9 L2312.3,596.7 L2316.7,593.0 L2318.5,596.1 L2321.0,591.7 L2322.9,596.1 L2324.5,579.2 L2327.3,584.2 L2329.8,584.9 L2332.9,596.1 L2336.6,596.1 L2339.1,601.7 L2342.9,591.1 L2345.4,599.8 L2347.2,594.8 L2349.1,594.8 L2353.5,609.2 L2357.2,599.8 L2359.1,607.9 L2361.6,599.8 L2364.1,596.1 L2365.9,587.3 L2369.7,578.6 L2374.0,578.0 L2375.9,579.9 L2379.0,578.6 L2382.2,584.2 L2384.7,581.7 L2387.1,568.6 L2390.3,571.1 L2394.0,575.5 L2397.7,579.9 L2400.2,569.3 L2402.7,571.1 L2405.2,580.5 L2408.4,575.5 L2412.1,578.6 L2414.6,571.8 L2417.7,574.2 L2422.7,574.9 L2424.6,580.5 L2428.3,578.0 L2430.2,569.9 L2434.6,572.4 L2438.9,565.5 L2442.7,574.2 L2447.0,572.4 L2448.9,581.1 L2452.0,581.7 L2455.1,582.4 L2458.9,578.0 L2460.7,587.3 L2465.1,583.6 L2467.0,591.1 L2469.5,588.0 L2471.4,601.1 L2473.2,593.0 L2475.1,611.0 L2477.6,599.2 L2479.5,611.0 L2483.2,612.3 L2485.7,628.5 L2489.4,622.9 L2492.6,619.8 L2495.7,618.5 L2498.2,609.2 L2500.7,611.7 L2503.8,626.6 L2507.5,621.7 L2511.9,617.9 L2516.3,612.3 L2518.8,611.0 L2520.0,612.3 L2524.2,615.4 L2526.3,608.1 L2528.4,612.6 L2531.5,613.3 L2534.7,619.2 L2536.8,611.2 L2538.9,607.0 L2540.6,597.9 L2542.4,600.4 L2545.1,601.1 L2546.9,607.7 L2550.0,605.3 L2552.5,611.9 L2555.3,611.6 L2556.7,621.0 L2559.1,623.1 L2560.9,618.9 L2563.3,632.5 L2567.1,612.3 L2570.6,618.2 L2574.1,616.8 L2577.3,611.2 L2579.7,617.5 L2583.2,610.2 L2585.7,610.2 L2587.8,605.3 L2591.6,615.1 L2594.0,611.6 L2596.1,610.5 L2597.9,605.3 L2599.6,613.7 L2603.8,616.4 L2608.7,615.4 L2611.8,619.6 L2613.9,615.4 L2616.0,621.3 L2618.5,617.5 L2619.5,597.9 L2621.6,591.0 L2624.1,585.0 L2626.5,582.9 L2628.6,594.1" fill="none" stroke="#439a84" stroke-width="3" stroke-linejoin="round" stroke-linecap="round"/>
</svg>
<svg class="abs" style="left:88px;top:842px" width="2445" height="5" viewBox="88 842 2445 5">
<line x1="88" y1="844.5" x2="2530" y2="844.5" stroke="#787b86" stroke-width="1" stroke-dasharray="1 4"/></svg>
<svg class="abs" style="left:84px;top:810px" width="252" height="44" viewBox="84 810 252 44">
<defs><clipPath id="wc"><rect x="300" y="824.2" width="32" height="16.3"/></clipPath><clipPath id="wch"><rect x="298" y="821.7" width="36" height="21.3"/></clipPath></defs>
<g fill="none" stroke="#fff" stroke-width="9.3" stroke-linecap="butt">
<path d="M147,820.3 H163.3"/>
<path d="M155.15,818.1 V840.7"/>
<path d="M165.7,824.2 V840.7"/>
<path d="M165.7,833 C165.7,828.2 168.3,826.4 172.7,826.4"/>
<path d="M188.1,823.6 V840.7"/>
<path d="M207.6,818.1 V840.7"/>
<path d="M215.2,824.2 V840.7"/>
<path d="M222.9,824.2 V840.7"/>
<path d="M222.9,831.2 A5.15,5.6 0 0 1 233.2,831.2 V840.7"/>
<path d="M252.6,823.6 V840.2 C252.6,844.2 250,845.4 246.6,845.4 C244.2,845.4 242.2,844.6 240.9,843.2"/>
<path d="M281.3,824.2 V840.5"/>
<circle cx="182.1" cy="832.15" r="6.35"/>
<circle cx="201.5" cy="832.2" r="6.35"/>
<circle cx="246.6" cy="832.05" r="6.3"/>
<path d="M301.1,831.3 A6.5,6.6 0 1 0 299.4,836.6"/><path d="M290,831.2 H301.6" stroke-width="7.8"/>
<path d="M305.3,821 L310.35,840.5 L315.6,827.3 L320.95,840.5 L326.1,821" stroke-linejoin="miter" clip-path="url(#wch)"/>
</g>
<g fill="#fff" stroke="#fff" stroke-width="5.0" stroke-linejoin="round">
<path d="M254.6,818.1 H260.3 L266,833.6 L271.9,818.1 H277 L268.6,840.5 H263.4 Z"/>
<circle cx="215.15" cy="819.6" r="2.8"/>
<circle cx="281.25" cy="819.5" r="2.75"/>
<path d="M91.1,818.1 H108.7 V840.5 H100.1 V826.8 H91.1 Z"/>
<path d="M116.4,840.5 H126.4 L135.7,818.1 H125.6 Z"/>
<circle cx="116.4" cy="822.6" r="4.2"/>
</g>
<g fill="none" stroke="#131722" stroke-width="4.3" stroke-linecap="butt">
<path d="M147,820.3 H163.3"/>
<path d="M155.15,818.1 V840.7"/>
<path d="M165.7,824.2 V840.7"/>
<path d="M165.7,833 C165.7,828.2 168.3,826.4 172.7,826.4"/>
<path d="M188.1,823.6 V840.7"/>
<path d="M207.6,818.1 V840.7"/>
<path d="M215.2,824.2 V840.7"/>
<path d="M222.9,824.2 V840.7"/>
<path d="M222.9,831.2 A5.15,5.6 0 0 1 233.2,831.2 V840.7"/>
<path d="M252.6,823.6 V840.2 C252.6,844.2 250,845.4 246.6,845.4 C244.2,845.4 242.2,844.6 240.9,843.2"/>
<path d="M281.3,824.2 V840.5"/>
<circle cx="182.1" cy="832.15" r="6.35"/>
<circle cx="201.5" cy="832.2" r="6.35"/>
<circle cx="246.6" cy="832.05" r="6.3"/>
<path d="M301.1,831.3 A6.5,6.6 0 1 0 299.4,836.6"/><path d="M290,831.2 H301.6" stroke-width="2.8"/>
<path d="M305.3,821 L310.35,840.5 L315.6,827.3 L320.95,840.5 L326.1,821" stroke-linejoin="miter" clip-path="url(#wc)"/>
</g>
<g fill="#131722" stroke="none">
<path d="M254.6,818.1 H260.3 L266,833.6 L271.9,818.1 H277 L268.6,840.5 H263.4 Z"/>
<circle cx="215.15" cy="819.6" r="2.8"/>
<circle cx="281.25" cy="819.5" r="2.75"/>
<path d="M91.1,818.1 H108.7 V840.5 H100.1 V826.8 H91.1 Z"/>
<path d="M116.4,840.5 H126.4 L135.7,818.1 H125.6 Z"/>
<circle cx="116.4" cy="822.6" r="4.2"/>
</g></svg>
<span class="t" style="left:2654.3px;top:464.1px;font-size:18.5px;font-weight:400;color:#131722;letter-spacing:0.667px">30.8000</span><span class="t" style="left:2654.3px;top:526.1px;font-size:18.5px;font-weight:400;color:#131722;letter-spacing:0.667px">30.7000</span><span class="t" style="left:2654.3px;top:650.1px;font-size:18.5px;font-weight:400;color:#131722;letter-spacing:0.667px">30.5000</span><span class="t" style="left:2654.3px;top:712.1px;font-size:18.5px;font-weight:400;color:#131722;letter-spacing:0.667px">30.4000</span><span class="t" style="left:2654.3px;top:774.1px;font-size:18.5px;font-weight:400;color:#131722;letter-spacing:0.667px">30.3000</span><span class="t" style="left:2654.3px;top:587.2px;font-size:18.5px;font-weight:400;color:#ffffff;letter-spacing:0.567px">30.6020</span>
<div class="abs" style="left:2638px;top:582px;width:98px;height:27px;border-radius:0 3px 3px 0;background:#439a84"></div>

<span class="t" style="left:2654.3px;top:587.2px;font-size:18.5px;font-weight:400;color:#ffffff;letter-spacing:0.567px">30.6020</span>
<div class="abs" style="left:2532px;top:831px;width:105px;height:27px;border-radius:3px 0 0 3px;background:#787b86"></div>
<div class="abs" style="left:2638px;top:831px;width:98px;height:27px;border-radius:0 3px 3px 0;background:#787b86"></div>
<span class="t" style="left:2539.4px;top:836.0px;font-size:18.5px;font-weight:400;color:#ffffff;letter-spacing:0.177px">Prev close</span>
<span class="t" style="left:2654.0px;top:836.0px;font-size:18.5px;font-weight:400;color:#ffffff;letter-spacing:0.667px">30.1990</span>
<span class="t" style="left:89.9px;top:875.1px;font-size:18.5px;font-weight:700;color:#131722;letter-spacing:1.8px">29</span><span class="t" style="left:186.6px;top:875.1px;font-size:18.5px;font-weight:400;color:#131722;letter-spacing:0.5px">02:00</span><span class="t" style="left:308.91px;top:875.1px;font-size:18.5px;font-weight:400;color:#131722;letter-spacing:0.5px">03:00</span><span class="t" style="left:431.22px;top:875.1px;font-size:18.5px;font-weight:400;color:#131722;letter-spacing:0.5px">04:00</span><span class="t" style="left:553.53px;top:875.1px;font-size:18.5px;font-weight:400;color:#131722;letter-spacing:0.5px">05:00</span><span class="t" style="left:675.84px;top:875.1px;font-size:18.5px;font-weight:400;color:#131722;letter-spacing:0.5px">06:00</span><span class="t" style="left:798.15px;top:875.1px;font-size:18.5px;font-weight:400;color:#131722;letter-spacing:0.5px">07:00</span><span class="t" style="left:920.46px;top:875.1px;font-size:18.5px;font-weight:400;color:#131722;letter-spacing:0.5px">08:00</span><span class="t" style="left:1042.77px;top:875.1px;font-size:18.5px;font-weight:400;color:#131722;letter-spacing:0.5px">09:00</span><span class="t" style="left:1164.08px;top:875.1px;font-size:18.5px;font-weight:400;color:#131722;letter-spacing:0.75px">10:00</span><span class="t" style="left:1286.39px;top:875.1px;font-size:18.5px;font-weight:400;color:#131722;letter-spacing:1.0px">11:00</span><span class="t" style="left:1408.7px;top:875.1px;font-size:18.5px;font-weight:400;color:#131722;letter-spacing:0.75px">12:00</span><span class="t" style="left:1531.01px;top:875.1px;font-size:18.5px;font-weight:400;color:#131722;letter-spacing:0.75px">13:00</span><span class="t" style="left:1653.32px;top:875.1px;font-size:18.5px;font-weight:400;color:#131722;letter-spacing:0.75px">14:00</span><span class="t" style="left:1775.63px;top:875.1px;font-size:18.5px;font-weight:400;color:#131722;letter-spacing:0.75px">15:00</span><span class="t" style="left:1897.94px;top:875.1px;font-size:18.5px;font-weight:400;color:#131722;letter-spacing:0.75px">16:00</span><span class="t" style="left:2020.25px;top:875.1px;font-size:18.5px;font-weight:400;color:#131722;letter-spacing:0.75px">17:00</span><span class="t" style="left:2142.56px;top:875.1px;font-size:18.5px;font-weight:400;color:#131722;letter-spacing:0.75px">18:00</span><span class="t" style="left:2264.87px;top:875.1px;font-size:18.5px;font-weight:400;color:#131722;letter-spacing:0.75px">19:00</span><span class="t" style="left:2388.18px;top:875.1px;font-size:18.5px;font-weight:400;color:#131722;letter-spacing:0.5px">20:00</span><span class="t" style="left:2510.49px;top:875.1px;font-size:18.5px;font-weight:400;color:#131722;letter-spacing:0.5px">21:00</span>
</main>
<div role="tablist" aria-label="Periods">
<div class="abs" style="left:84px;top:941px;width:330px;height:120px;border:3px solid #2d5ef8;border-radius:24px;background:#f0f3fa;box-shadow:inset 0 0 0 2px #fff"></div>
<span class="t" style="left:219.6px;top:972.2px;font-size:23.5px;font-weight:400;color:#131722;letter-spacing:0.4px;-webkit-text-stroke:0.35px #131722">1 day</span><span class="t" style="left:547.0px;top:972.2px;font-size:23.5px;font-weight:400;color:#131722;letter-spacing:0.4px;-webkit-text-stroke:0.35px #131722">5 days</span><span class="t" style="left:870.6px;top:972.2px;font-size:23.5px;font-weight:400;color:#131722;letter-spacing:1.1px;-webkit-text-stroke:0.35px #131722">1 month</span><span class="t" style="left:1197.6px;top:972.2px;font-size:23.5px;font-weight:400;color:#131722;letter-spacing:1.085px;-webkit-text-stroke:0.35px #131722">6 months</span><span class="t" style="left:1517.0px;top:972.2px;font-size:23.5px;font-weight:400;color:#131722;letter-spacing:0.545px;-webkit-text-stroke:0.35px #131722">Year to date</span><span class="t" style="left:1882.9px;top:972.2px;font-size:23.5px;font-weight:400;color:#131722;letter-spacing:0.32px;-webkit-text-stroke:0.35px #131722">1 year</span><span class="t" style="left:2210.6px;top:972.2px;font-size:23.5px;font-weight:400;color:#131722;letter-spacing:0.366px;-webkit-text-stroke:0.35px #131722">5 years</span><span class="t" style="left:2543.2px;top:972.2px;font-size:23.5px;font-weight:400;color:#131722;letter-spacing:0.686px;-webkit-text-stroke:0.35px #131722">All time</span>
<span class="t" style="left:212.8px;top:1008.0px;font-size:23.5px;font-weight:400;color:#38957a;letter-spacing:1.35px;-webkit-text-stroke:0.35px #38957a">1.33%</span><span class="t" style="left:538.6px;top:1008.0px;font-size:23.5px;font-weight:400;color:#e0363f;letter-spacing:1.36px;-webkit-text-stroke:0.35px #e0363f">−2.34%</span><span class="t" style="left:871.6px;top:1008.0px;font-size:23.5px;font-weight:400;color:#e0363f;letter-spacing:1.36px;-webkit-text-stroke:0.35px #e0363f">−9.33%</span><span class="t" style="left:1213.3px;top:1008.0px;font-size:23.5px;font-weight:400;color:#38957a;letter-spacing:1.45px;-webkit-text-stroke:0.35px #38957a">0.66%</span><span class="t" style="left:1539.0px;top:1008.0px;font-size:23.5px;font-weight:400;color:#38957a;letter-spacing:1.52px;-webkit-text-stroke:0.35px #38957a">28.70%</span><span class="t" style="left:1873.4px;top:1008.0px;font-size:23.5px;font-weight:400;color:#38957a;letter-spacing:1.44px;-webkit-text-stroke:0.35px #38957a">21.16%</span><span class="t" style="left:2206.4px;top:1008.0px;font-size:23.5px;font-weight:400;color:#38957a;letter-spacing:1.52px;-webkit-text-stroke:0.35px #38957a">80.85%</span><span class="t" style="left:2538.3px;top:1008.0px;font-size:23.5px;font-weight:400;color:#38957a;letter-spacing:0.6px;-webkit-text-stroke:0.35px #38957a">2.27 K%</span>
</div>
</body></html>
